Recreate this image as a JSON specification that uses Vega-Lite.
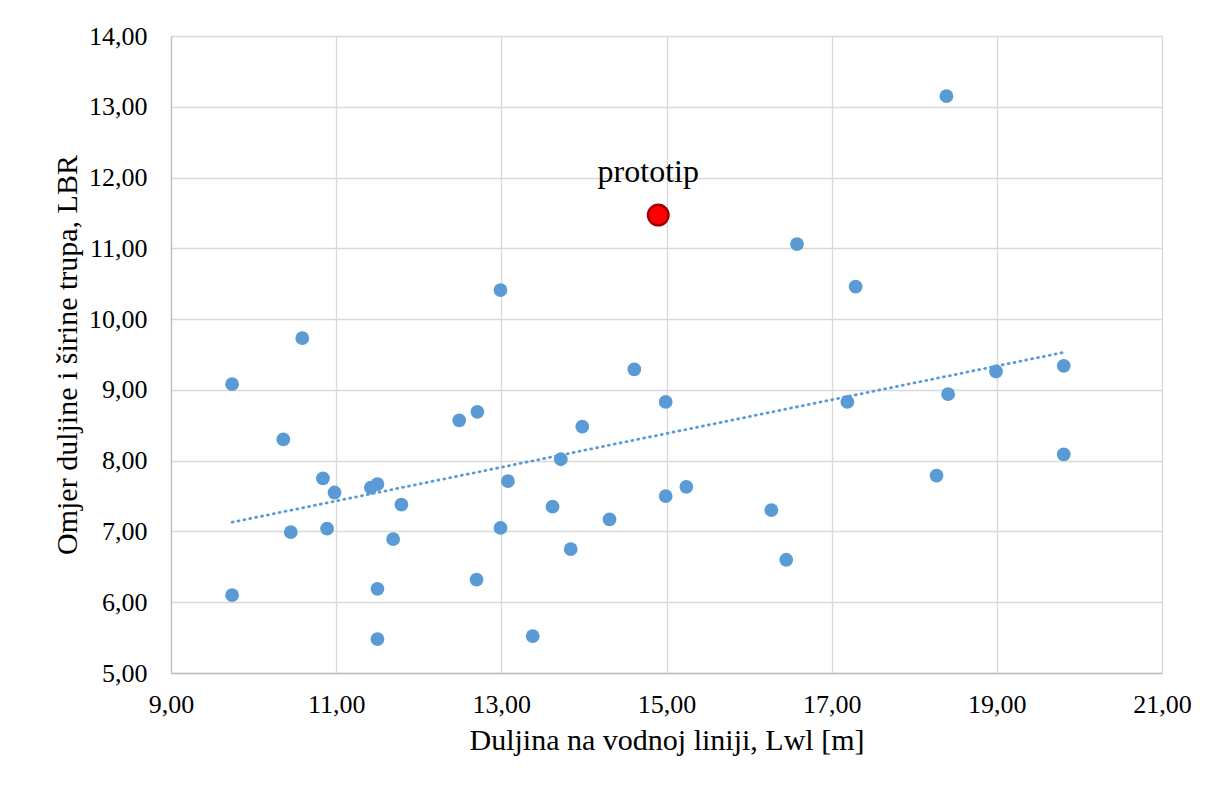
{
  "$schema": "https://vega.github.io/schema/vega-lite/v6.json",
  "width": 991,
  "height": 637,
  "autosize": {"type": "none"},
  "padding": {"left": 171, "top": 36, "right": 54, "bottom": 116},
  "background": "white",
  "config": {
    "font": "Liberation Serif",
    "view": {"stroke": null},
    "axis": {
      "labelFont": "Liberation Serif",
      "titleFont": "Liberation Serif",
      "labelColor": "#000000",
      "titleColor": "#000000",
      "titleFontWeight": "normal",
      "gridColor": "#D9D9D9",
      "gridWidth": 1.3,
      "domainColor": "#BFBFBF",
      "domainWidth": 1.3,
      "ticks": false,
      "labelFlush": false,
      "labelOverlap": false
    }
  },
  "datasets": {
    "pts": [
      {"L": 9.74, "LBR": 9.08}, {"L": 9.74, "LBR": 6.10}, {"L": 10.36, "LBR": 8.30},
      {"L": 10.45, "LBR": 6.99}, {"L": 10.59, "LBR": 9.73}, {"L": 10.84, "LBR": 7.75},
      {"L": 10.89, "LBR": 7.04}, {"L": 10.98, "LBR": 7.55}, {"L": 11.42, "LBR": 7.62},
      {"L": 11.50, "LBR": 7.67}, {"L": 11.50, "LBR": 6.19}, {"L": 11.50, "LBR": 5.48},
      {"L": 11.69, "LBR": 6.89}, {"L": 11.79, "LBR": 7.38}, {"L": 12.49, "LBR": 8.57},
      {"L": 12.71, "LBR": 8.69}, {"L": 12.70, "LBR": 6.32}, {"L": 12.99, "LBR": 10.41},
      {"L": 12.99, "LBR": 7.05}, {"L": 13.08, "LBR": 7.71}, {"L": 13.38, "LBR": 5.52},
      {"L": 13.62, "LBR": 7.35}, {"L": 13.72, "LBR": 8.02}, {"L": 13.84, "LBR": 6.75},
      {"L": 13.98, "LBR": 8.48}, {"L": 14.31, "LBR": 7.17}, {"L": 14.61, "LBR": 9.29},
      {"L": 14.99, "LBR": 8.83}, {"L": 14.99, "LBR": 7.50}, {"L": 15.24, "LBR": 7.63},
      {"L": 16.27, "LBR": 7.30}, {"L": 16.45, "LBR": 6.60}, {"L": 16.58, "LBR": 11.06},
      {"L": 17.19, "LBR": 8.83}, {"L": 17.29, "LBR": 10.46}, {"L": 18.27, "LBR": 7.79},
      {"L": 18.39, "LBR": 13.15}, {"L": 18.41, "LBR": 8.94}, {"L": 18.99, "LBR": 9.26},
      {"L": 19.81, "LBR": 9.34}, {"L": 19.81, "LBR": 8.09}
    ],
    "trend": [
      {"L": 9.74, "LBR": 7.13}, {"L": 19.81, "LBR": 9.53}
    ],
    "proto": [
      {"L": 14.90, "LBR": 11.47, "label": "prototip"}
    ]
  },
  "encoding": {
    "x": {
      "field": "L", "type": "quantitative",
      "scale": {"domain": [9, 21], "nice": false, "zero": false},
      "axis": {
        "values": [9, 11, 13, 15, 17, 19, 21],
        "labelExpr": "replace(format(datum.value, '.2f'), '.', ',')",
        "labelFontSize": 26,
        "labelPadding": 18,
        "title": "Duljina na vodnoj liniji, Lwl [m]",
        "titleFontSize": 30,
        "titlePadding": 8
      }
    },
    "y": {
      "field": "LBR", "type": "quantitative",
      "scale": {"domain": [5, 14], "nice": false, "zero": false},
      "axis": {
        "values": [5, 6, 7, 8, 9, 10, 11, 12, 13, 14],
        "labelExpr": "replace(format(datum.value, '.2f'), '.', ',')",
        "labelFontSize": 26,
        "labelPadding": 24,
        "title": "Omjer duljine i širine trupa, LBR",
        "titleFontSize": 30,
        "titlePadding": 6
      }
    }
  },
  "layer": [
    {
      "data": {"name": "trend"},
      "mark": {"type": "line", "color": "#5B9BD5", "strokeWidth": 2.8, "strokeDash": [1, 5], "strokeCap": "round"}
    },
    {
      "data": {"name": "pts"},
      "mark": {"type": "circle", "color": "#5B9BD5", "opacity": 1, "size": 190}
    },
    {
      "data": {"name": "proto"},
      "mark": {"type": "circle", "color": "#FF0000", "opacity": 1, "size": 420, "stroke": "#A00000", "strokeWidth": 2.5}
    },
    {
      "data": {"name": "proto"},
      "mark": {"type": "text", "fontSize": 32, "dy": -43, "dx": -10, "color": "#000000", "font": "Liberation Serif"},
      "encoding": {"text": {"field": "label"}}
    }
  ]
}
